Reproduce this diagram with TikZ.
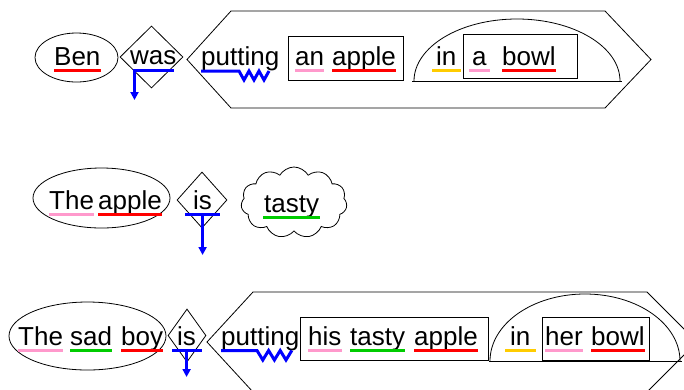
\documentclass[tikz,border=0pt]{standalone}
\usepackage{fontspec}
\setmainfont{Liberation Sans}
\usetikzlibrary{shapes.geometric,shapes.symbols,arrows.meta}
\definecolor{ulred}{RGB}{255,0,0}
\definecolor{ulpink}{RGB}{255,153,204}
\definecolor{ulgreen}{RGB}{0,204,0}
\definecolor{ulyellow}{RGB}{255,204,0}
\definecolor{ulblue}{RGB}{0,0,255}
\tikzstyle{word}=[inner sep=0pt, anchor=base west, font=\fontsize{26}{30}\selectfont]
\tikzstyle{frame}=[draw, line width=0.8pt]
\tikzstyle{uline}=[line width=3pt]
\tikzstyle{verbline}=[line width=3pt, ulblue]
\tikzstyle{down>}=[-{Triangle[length=8pt,width=8pt]}]

\begin{document}
\begin{tikzpicture}[x=1pt,y=-1pt]
\clip (0,0) rectangle (684,389);
% Ben was putting an apple in a bowl
\node[ellipse,frame,minimum width=83pt,minimum height=49pt] (subj1) at (76.5,57.5) {};
\node[diamond,frame,minimum width=63pt,minimum height=62pt,inner sep=0pt] (aux1) at (151.5,57) {};
\draw[frame] (187,59.5) -- (231,11) -- (605,11) -- (651,59.5) -- (605,108) -- (231,108) -- cycle;
\draw[frame] (288,36) rectangle (403,80);
\draw[frame] (412,81) -- (622,81);
\draw[frame] (414,81) arc[start angle=180,end angle=0,x radius=103pt,y radius=62pt];
\draw[frame] (463,34) rectangle (577,78);
\node[word] (was) at (130,64) {was};
\draw[verbline,down>] ([xshift=-3pt,yshift=-6pt]was.base east) -- ([xshift=4.5pt,yshift=-6pt]was.base west) -- ++(0,30);
\node[word] (put1) at (201,65) {putting};
\draw[verbline] ([yshift=-6pt]put1.base west) -- ++(38,0) \foreach \k in {1,2,3} { -- ++(5,9) -- ++(5,-9) };

% The apple is tasty
\node[ellipse,frame,minimum width=137pt,minimum height=60pt] (subj2) at (101.5,198) {};
\node[diamond,frame,minimum width=50pt,minimum height=56pt,inner sep=0pt] (aux2) at (202,200) {};
\node[cloud,frame,cloud puffs=11,cloud puff arc=120,aspect=1.5,minimum width=106pt,minimum height=71pt,inner sep=0pt] (pred2) at (294,202.5) {};
\node[word] (is2) at (193,209) {is};
\draw[verbline] ([xshift=-8pt,yshift=-5pt]is2.base west) -- ([xshift=8pt,yshift=-5pt]is2.base east);
\draw[verbline,down>] ([yshift=-5pt]is2.base) -- ++(0,41);

% The sad boy is putting his tasty apple in her bowl
\node[ellipse,frame,minimum width=157pt,minimum height=68pt] (subj3) at (87.5,336) {};
\node[diamond,frame,minimum width=38pt,minimum height=53pt,inner sep=0pt] (aux3) at (187,335.5) {};
\draw[frame] (207,342) -- (253,292) -- (647,292) -- (697,342) -- (647,392) -- (253,392) -- cycle;
\draw[frame] (300,317) rectangle (488,360);
\draw[frame] (489,361) -- (682,361);
\draw[frame] (490,361) arc[start angle=180,end angle=0,x radius=95pt,y radius=67pt];
\draw[frame] (542,317) rectangle (649,360);
\node[word] (is3) at (177,345) {is};
\draw[verbline] ([xshift=-5pt,yshift=-5pt]is3.base west) -- ([xshift=6pt,yshift=-5pt]is3.base east);
\draw[verbline,down>] ([yshift=-5pt]is3.base) -- ++(0,27);
\node[word] (put3) at (221,345) {putting};
\draw[verbline] ([yshift=-5.5pt]put3.base west) -- ++(36,0) \foreach \k in {1,2,3} { -- ++(5.8,9.5) -- ++(5.8,-9.5) };

% words with coloured underlines
\foreach \nm/\txt/\x/\y/\col/\e in {
  ben/Ben/54/65/ulred/0, an1/an/295/65/ulpink/0, apple1/apple/332/65/ulred/0,
  in1/in/436/65/ulyellow/4, a1/a/472/65/ulpink/3, bowl1/bowl/502/65/ulred/0,
  the2/The/49/209/ulpink/0, apple2/apple/98/209/ulred/0, tasty2/tasty/264/212/ulgreen/1,
  the3/The/18/345/ulpink/0, sad3/sad/70/345/ulgreen/0, boy3/boy/121/345/ulred/0,
  his3/his/308/345/ulpink/0, tasty3/tasty/350/345/ulgreen/0, apple3/apple/414/345/ulred/0,
  in3/in/510/345/ulyellow/5, her3/her/545/345/ulpink/0, bowl3/bowl/591/345/ulred/0}
{
  \node[word] (\nm) at (\x,\y) {\txt};
  \draw[uline,\col] ([xshift=-\e pt,yshift=-5.5pt]\nm.base west) -- ([xshift=\e pt,yshift=-5.5pt]\nm.base east);
}
\end{tikzpicture}
\end{document}
